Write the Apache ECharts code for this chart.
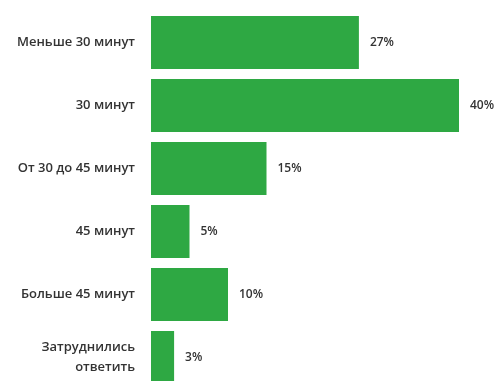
<!DOCTYPE html>
<html>
<head>
<meta charset="utf-8">
<script src="https://cdn.jsdelivr.net/npm/echarts@6/dist/echarts.min.js"></script>
<style>
  html, body { margin: 0; padding: 0; background: #fff; }
  #chart { width: 495px; height: 381px; }
</style>
</head>
<body>
<div id="chart"></div>
<script>
const categories = [
  "Меньше 30 минут",
  "30 минут",
  "От 30 до 45 минут",
  "45 минут",
  "Больше 45 минут",
  "Затруднились\nответить",
];
const shares = [27, 40, 15, 5, 10, 3];

const chart = echarts.init(document.getElementById("chart"));

chart.setOption({
  animation: false,
  // last row runs past the bottom edge, so let the grid overflow
  grid: { left: 151, right: 36, top: 11, height: 378, outerBoundsMode: "none" },
  xAxis: {
    type: "value",
    min: 0,
    max: 40,
    show: false,
  },
  yAxis: {
    type: "category",
    inverse: true,
    data: categories,
    axisLine: { show: false },
    axisTick: { show: false },
    axisLabel: {
      margin: 16,
      color: "#333",
      fontFamily: "Open Sans",
      fontWeight: 600,
      fontSize: 13,
      lineHeight: 20,
      align: "right",
    },
  },
  series: [
    {
      type: "bar",
      data: shares,
      barWidth: 53,
      itemStyle: { color: "#2ea843" },
      label: {
        show: true,
        position: "right",
        distance: 11,
        color: "#333",
        fontFamily: "Open Sans",
        fontWeight: 600,
        fontSize: 12,
        formatter: (p) => p.value + "%",
      },
    },
  ],
});
</script>
</body>
</html>
